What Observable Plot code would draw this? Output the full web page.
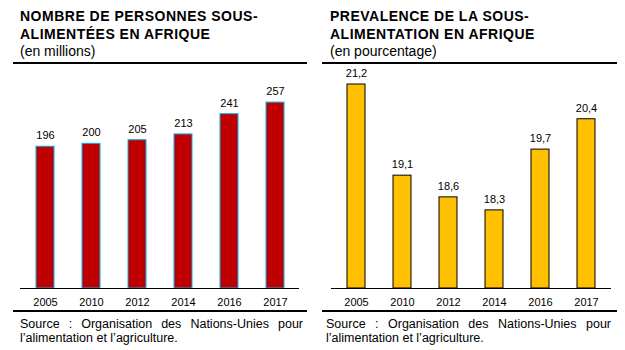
<!DOCTYPE html>
<html><head><meta charset="utf-8">
<script src="https://cdn.jsdelivr.net/npm/d3@7"></script>
<script src="https://cdn.jsdelivr.net/npm/@observablehq/plot@0.6"></script>
<style>
body{margin:0;background:#fff;font-family:"Liberation Sans",Arial,sans-serif;color:#000}
#root{position:relative;width:625px;height:350px;overflow:hidden}
.title{position:absolute;font-weight:bold;font-size:14px;line-height:18px;letter-spacing:0.5px;white-space:nowrap}
.sub{position:absolute;font-size:14px;line-height:16px;white-space:nowrap}
.rule{position:absolute;height:2px;background:#000}
.src{position:absolute;font-size:12.5px;line-height:14px;text-align:justify}
.chart{position:absolute;top:66px}
</style></head>
<body><div id="root">
<div class="title" style="left:20px;top:7px">NOMBRE DE PERSONNES SOUS-<br>ALIMENTÉES EN AFRIQUE</div>
<div class="sub" style="left:20px;top:43px">(en millions)</div>
<div class="rule" style="left:13px;width:294px;top:62px"></div>
<div class="chart" id="c1" style="left:0px"></div>
<div class="rule" style="left:13px;width:294px;top:310px"></div>
<div class="src" style="left:20px;width:283px;top:317px">Source&nbsp;:&nbsp;Organisation des Nations-Unies pour l’alimentation et l’agriculture.</div>

<div class="title" style="left:330px;top:7px">PREVALENCE DE LA SOUS-<br>ALIMENTATION EN AFRIQUE</div>
<div class="sub" style="left:330px;top:43px">(en pourcentage)</div>
<div class="rule" style="left:322px;width:295px;top:62px"></div>
<div class="chart" id="c2" style="left:312px"></div>
<div class="rule" style="left:322px;width:295px;top:310px"></div>
<div class="src" style="left:326px;width:285px;top:317px">Source&nbsp;:&nbsp;Organisation des Nations-Unies pour l’alimentation et l’agriculture.</div>
</div>
<script>
const years = ["2005","2010","2012","2014","2016","2017"];
const persons = [196, 200, 205, 213, 241, 257];
const prevalence = [21.2, 19.1, 18.6, 18.3, 19.7, 20.4];

const font = '"Liberation Sans", Arial, sans-serif';

function makeChart(values, cfg) {
  const data = years.map((y, i) => ({year: y, v: values[i]}));
  return Plot.plot({
    width: cfg.width, height: 244,
    marginTop: 5, marginBottom: 22, marginLeft: cfg.ml, marginRight: cfg.mr,
    style: {fontFamily: font, fontSize: "11px", color: "#000", background: "transparent"},
    x: {domain: years, paddingInner: 0.615, paddingOuter: 0.3, label: null, tickSize: 0, tickPadding: 10},
    y: {domain: cfg.domain, axis: null},
    marks: [
      Plot.barY(data, {x: "year", y1: cfg.domain[0], y2: "v", fill: cfg.fill, stroke: cfg.stroke, strokeWidth: 1}),
      Plot.ruleY([cfg.domain[0]], {stroke: "#000", strokeWidth: 1}),
      Plot.text(data, {x: "year", y: "v", text: cfg.fmt, dy: -11, fontSize: 11, fill: "#000"})
    ]
  });
}

document.getElementById("c1").append(makeChart(persons, {
  width: 312, ml: 20, mr: 13, domain: [0, 300], fill: "#C00000", stroke: "#00B0F0",
  fmt: d => String(d.v)
}));
document.getElementById("c2").append(makeChart(prevalence, {
  width: 313, ml: 19, mr: 14, domain: [16.5, 21.5], fill: "#FFC000", stroke: "#000",
  fmt: d => d.v.toFixed(1).replace(".", ",")
}));
</script>
</body></html>
